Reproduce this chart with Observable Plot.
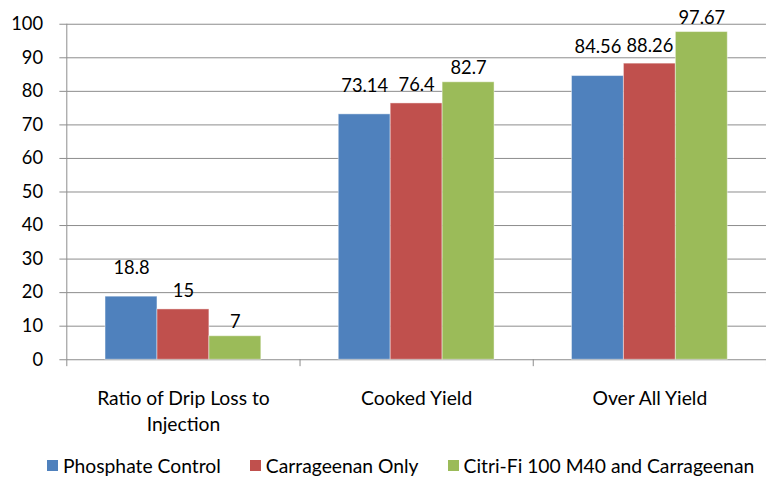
<!DOCTYPE html>
<html><head><meta charset="utf-8">
<script src="https://cdn.jsdelivr.net/npm/d3@7"></script>
<script src="https://cdn.jsdelivr.net/npm/@observablehq/plot@0.6"></script>
<style>
html,body{margin:0;padding:0;background:#fff;overflow:hidden;}
#wrap{width:766px;height:478px;overflow:hidden;font-family:Lato,sans-serif;}
#wrap > div{flex-wrap:nowrap !important;white-space:nowrap;width:719px;}
#wrap > div > span{margin-right:29px !important;white-space:nowrap;}
#wrap > div > span > svg{margin-right:5px !important;}
</style></head><body><div id="wrap"></div>
<script>
const categories = ["Ratio of Drip Loss to Injection", "Cooked Yield", "Over All Yield"];
const series = ["Phosphate Control", "Carrageenan Only", "Citri-Fi 100 M40 and Carrageenan"];
const phosphateControl = [18.8, 73.14, 84.56];
const carrageenanOnly = [15, 76.4, 88.26];
const citriFiCarrageenan = [7, 82.7, 97.67];
const yTicks = [0, 10, 20, 30, 40, 50, 60, 70, 80, 90, 100];
const colors = ["#4F81BD", "#C0504D", "#9BBB59"];

const valuesBySeries = [phosphateControl, carrageenanOnly, citriFiCarrageenan];
const groupShare = 0.668;
const bw = groupShare / series.length;
const rows = series.flatMap((s, j) => categories.map((c, i) => ({
  series: s, si: j, category: c, ci: i, value: valuesBySeries[j][i],
  x1: i + 0.5 + (j - series.length / 2) * bw,
  x2: i + 0.5 + (j + 1 - series.length / 2) * bw
})));
const labelDy = [-29, -18, -14];
const gridColor = "#8c8c8c";

const chart = Plot.plot({
  width: 774, height: 448,
  marginLeft: 67, marginRight: 0, marginTop: 24, marginBottom: 85,
  style: {fontFamily: "Lato, sans-serif", fontSize: "18px", color: "#000", overflow: "visible", background: "#fff"},
  x: {domain: [0, categories.length]},
  y: {domain: [0, 100]},
  color: {domain: series, range: colors},
  marks: [
    Plot.ruleY(yTicks, {stroke: gridColor, strokeWidth: 1}),
    Plot.axisY({ticks: yTicks, tickSize: 7, tickPadding: 17, stroke: gridColor, fill: "#000", fontSize: 18.5, label: null}),
    Plot.ruleX([0], {stroke: gridColor}),
    Plot.axisX({ticks: d3.range(categories.length + 1), tickSize: 7, tickFormat: () => "", stroke: gridColor, label: null}),
    Plot.axisX({ticks: categories.map((c, i) => i + 0.5), tickSize: 0, tickPadding: 27,
      tickFormat: d => categories[Math.floor(d)], lineWidth: 11, lineHeight: 1.36,
      fontSize: 19.5, fill: "#000", label: null}),
    Plot.rectY(rows, {x1: "x1", x2: "x2", y1: 0, y2: "value", fill: "series", stroke: "#fff", strokeOpacity: 0.45}),
    ...series.map((s, j) => Plot.text(rows.filter(r => r.si === j), {
      x: r => (r.x1 + r.x2) / 2, y: "value", text: r => String(r.value),
      dy: labelDy[j], fontSize: 18.5, fill: "#000"
    }))
  ]
});

const legend = Plot.legend({
  color: {domain: series, range: colors},
  legend: "swatches", swatchSize: 11, className: "lg",
  style: {fontFamily: "Lato, sans-serif", fontSize: "19.3px", marginLeft: "47px", marginTop: "6px", color: "#000"}
});

const wrap = document.getElementById("wrap");
wrap.appendChild(chart);
wrap.appendChild(legend);
</script>
</body></html>
